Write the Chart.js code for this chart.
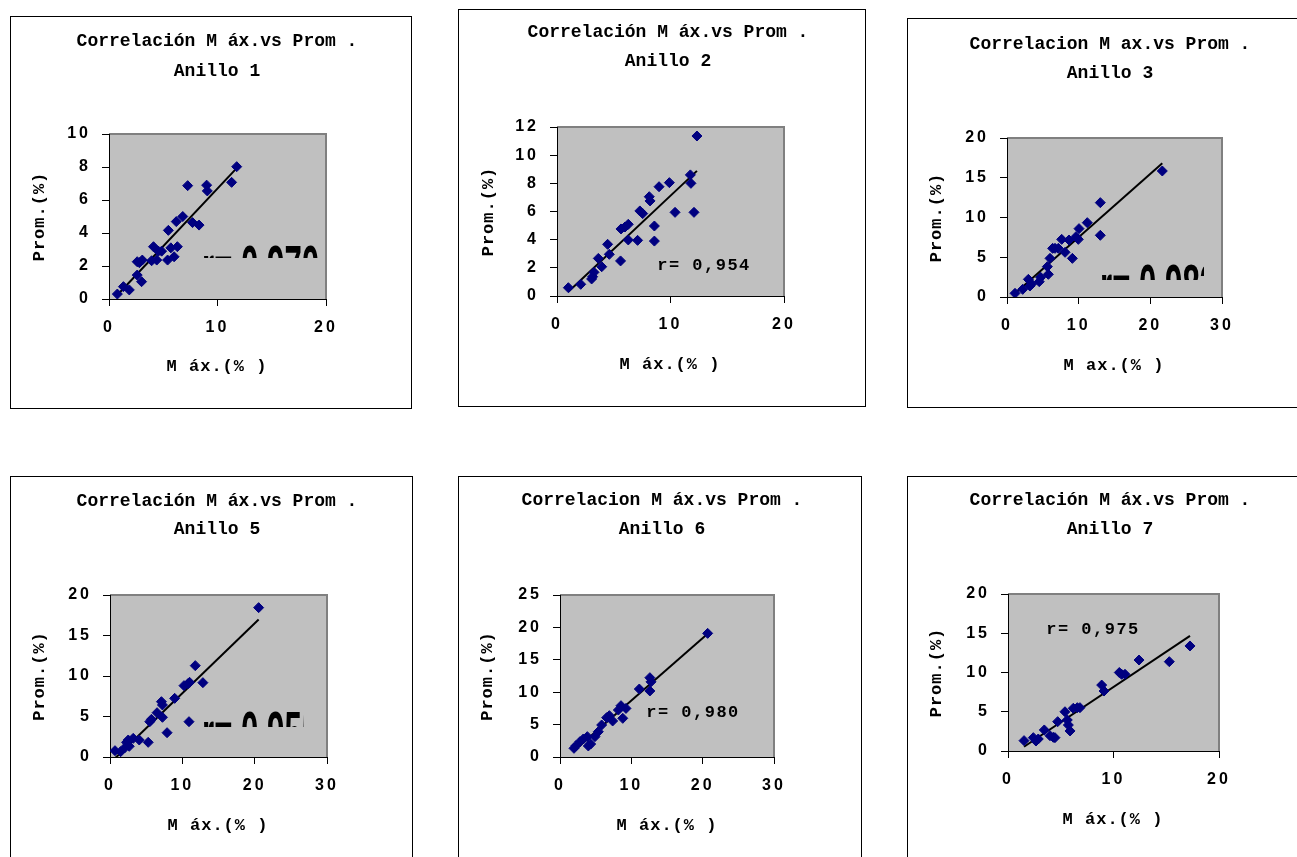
<!DOCTYPE html>
<html>
<head>
<meta charset="utf-8">
<script src="https://cdn.jsdelivr.net/npm/chart.js@4.4.1/dist/chart.umd.min.js"></script>
<style>
  body { margin: 0; background: #fff; width: 1297px; height: 857px; overflow: hidden; position: relative; }
  canvas { position: absolute; }
</style>
</head>
<body>
<script>
// Máx. (%) vs Prom. (%) per ring
const max1 = [0.77, 1.33, 1.87, 2.6, 2.6, 3.0, 3.07, 2.8, 3.93, 4.1, 4.4, 4.55, 4.85, 5.4, 5.47, 5.7, 6.0, 6.2, 6.3, 6.8, 7.25, 7.7, 8.3, 9.0, 9.06, 11.3, 11.77];
const prom1 = [0.30, 0.75, 0.55, 1.45, 2.26, 1.05, 2.36, 2.2, 2.32, 3.17, 2.36, 2.9, 2.9, 2.36, 4.16, 3.1, 2.56, 4.69, 3.17, 5.0, 6.87, 4.63, 4.48, 6.9, 6.55, 7.07, 8.02];

const max2 = [1.0, 2.09, 3.05, 3.14, 3.26, 3.64, 3.94, 4.46, 4.61, 5.6, 5.64, 5.99, 6.28, 6.28, 7.1, 7.3, 7.55, 8.13, 8.2, 8.58, 8.58, 8.99, 9.9, 10.4, 11.75, 11.8, 12.07, 12.33];
const prom2 = [0.59, 0.83, 1.21, 1.37, 1.68, 2.67, 2.08, 3.67, 2.96, 2.49, 4.76, 4.9, 5.09, 3.98, 3.95, 6.04, 5.85, 7.05, 6.75, 4.97, 3.9, 7.76, 8.05, 5.94, 8.6, 8.0, 5.94, 11.36];

const max3 = [1.12, 2.19, 2.98, 3.2, 3.44, 4.5, 4.7, 5.63, 5.77, 6.0, 6.37, 6.7, 7.16, 7.63, 8.1, 8.65, 9.12, 9.63, 9.95, 10.05, 11.2, 13.02, 13.02, 21.67];
const prom3 = [0.46, 0.96, 2.22, 1.38, 1.64, 1.93, 2.47, 3.82, 2.85, 4.86, 6.12, 6.12, 6.12, 7.25, 5.62, 7.17, 4.86, 7.59, 7.25, 8.6, 9.35, 11.87, 7.76, 15.85];

const max5 = [0.69, 1.47, 2.06, 2.29, 2.52, 2.66, 3.21, 4.04, 5.28, 5.5, 5.73, 6.51, 7.11, 7.25, 7.25, 7.89, 8.94, 10.23, 10.78, 10.92, 11.0, 11.79, 12.84, 20.55];
const prom5 = [0.78, 0.66, 1.15, 1.81, 2.1, 1.32, 2.3, 2.1, 1.81, 4.36, 4.65, 5.47, 6.83, 6.42, 4.9, 3.0, 7.24, 8.81, 9.05, 4.36, 9.22, 11.28, 9.18, 18.44];

const max6 = [1.96, 2.24, 2.8, 3.27, 3.83, 3.97, 4.3, 4.9, 5.37, 5.84, 6.54, 6.92, 7.38, 8.18, 8.55, 8.8, 9.25, 11.12, 12.6, 12.6, 12.76, 20.7];
const prom6 = [1.34, 1.75, 2.37, 2.78, 3.14, 1.7, 2.0, 3.14, 3.9, 4.94, 6.07, 6.38, 5.56, 7.25, 7.92, 5.97, 7.5, 10.49, 12.24, 10.19, 11.6, 19.08];

const max7 = [1.52, 2.4, 2.65, 2.87, 3.44, 3.98, 4.3, 4.45, 4.71, 5.4, 5.62, 5.72, 5.88, 6.19, 6.57, 6.82, 8.88, 9.1, 10.55, 10.77, 11.09, 12.42, 15.29, 17.25];
const prom7 = [1.32, 1.7, 1.27, 1.53, 2.68, 1.95, 1.74, 1.7, 3.74, 5.0, 3.95, 3.31, 2.55, 5.44, 5.52, 5.52, 8.4, 7.64, 10.0, 9.77, 9.77, 11.59, 11.38, 13.38];

const rings = ['Anillo 1', 'Anillo 2', 'Anillo 3', 'Anillo 5', 'Anillo 6', 'Anillo 7'];
const titles = ['Correlación M áx.vs Prom .', 'Correlación M áx.vs Prom .', 'Correlacion M ax.vs Prom .',
                'Correlación M áx.vs Prom .', 'Correlacion M áx.vs Prom .', 'Correlación M áx.vs Prom .'];
const xTitles = ['M áx.(% )', 'M áx.(% )', 'M ax.(% )', 'M áx.(% )', 'M áx.(% )', 'M áx.(% )'];
const yTitle = 'Prom.(%)';
const rValues = [0.970, 0.954, 0.983, 0.955, 0.980, 0.975];

const xTicks = [[0, 10, 20], [0, 10, 20], [0, 10, 20, 30], [0, 10, 20, 30], [0, 10, 20, 30], [0, 10, 20]];
const yTicks = [[0, 2, 4, 6, 8, 10], [0, 2, 4, 6, 8, 10, 12], [0, 5, 10, 15, 20], [0, 5, 10, 15, 20],
                [0, 5, 10, 15, 20, 25], [0, 5, 10, 15, 20]];

const maxSets = [max1, max2, max3, max5, max6, max7];
const promSets = [prom1, prom2, prom3, prom5, prom6, prom7];

// page layout: frame box, plot box, text anchors (page px)
const panels = [
  { box: [10, 16, 412, 409],   plot: [109, 134, 326, 299],  t1: [217, 41],   t2: 71,  yt: 40,  xt: [217, 367],
    r: { big: true, x: 202, base: 287, clipB: 258, clipR: 330 } },
  { box: [458, 9, 866, 407],   plot: [557, 127, 784, 296],  t1: [668, 32],   t2: 61,  yt: 489, xt: [670, 365],
    r: { x: 704, y: 266 } },
  { box: [907, 18, 1300, 408], plot: [1007, 138, 1222, 297], t1: [1110, 44], t2: 73,  yt: 937, xt: [1114, 366],
    r: { big: true, x: 1100, base: 306, clipB: 280, clipR: 1204 } },
  { box: [10, 476, 413, 870],  plot: [110, 595, 327, 757],  t1: [217, 501],  t2: 529, yt: 40,  xt: [218, 826],
    r: { big: true, x: 202, base: 753, clipB: 727, clipR: 304 } },
  { box: [458, 476, 862, 870], plot: [560, 595, 774, 757],  t1: [662, 500],  t2: 529, yt: 488, xt: [667, 826],
    r: { x: 693, y: 713 } },
  { box: [907, 476, 1300, 870], plot: [1008, 594, 1219, 751], t1: [1110, 500], t2: 529, yt: 937, xt: [1113, 820],
    r: { x: 1093, y: 630 } }
];

function fit(xs, ys) {
  const n = xs.length;
  const mx = xs.reduce((a, b) => a + b, 0) / n;
  const my = ys.reduce((a, b) => a + b, 0) / n;
  let sxy = 0, sxx = 0;
  for (let i = 0; i < n; i++) {
    sxy += (xs[i] - mx) * (ys[i] - my);
    sxx += (xs[i] - mx) * (xs[i] - mx);
  }
  const b = sxy / sxx;
  return { a: my - b * mx, b: b };
}

const panelPlugin = {
  id: 'panel',
  beforeDraw(chart, args, opts) {
    const ctx = chart.ctx;
    const a = chart.chartArea;
    ctx.save();
    ctx.fillStyle = '#fff';
    ctx.fillRect(0, 0, chart.width, chart.height);
    ctx.fillStyle = '#c0c0c0';
    ctx.fillRect(a.left, a.top, a.right - a.left, a.bottom - a.top);
    ctx.strokeStyle = '#808080';
    ctx.lineWidth = 2;
    ctx.beginPath();
    ctx.moveTo(a.left, a.top);
    ctx.lineTo(a.right, a.top);
    ctx.lineTo(a.right, a.bottom);
    ctx.stroke();
    ctx.strokeStyle = '#000';
    ctx.lineWidth = 1;
    ctx.strokeRect(0.5, 0.5, chart.width - 1, chart.height - 1);
    ctx.restore();
    ctx.letterSpacing = '3px';
  },
  afterDraw(chart, args, opts) {
    const ctx = chart.ctx;
    const p = opts.p, ox = p.box[0], oy = p.box[1];
    const a = chart.chartArea;
    ctx.save();
    ctx.fillStyle = '#000';
    ctx.textAlign = 'center';
    ctx.textBaseline = 'middle';
    ctx.letterSpacing = '0px';
    ctx.font = 'bold 18px "Liberation Mono", monospace';
    ctx.fillText(opts.title, p.t1[0] - ox, p.t1[1] - oy);
    ctx.fillText(opts.ring, p.t1[0] - ox, p.t2 - oy);

    ctx.letterSpacing = '1px';
    ctx.font = 'bold 17px "Liberation Mono", monospace';
    ctx.fillText(opts.xTitle, p.xt[0] - ox, p.xt[1] - oy);
    ctx.save();
    ctx.translate(p.yt - ox, (a.top + a.bottom) / 2);
    ctx.rotate(-Math.PI / 2);
    ctx.fillText(yTitle, 0, 0);
    ctx.restore();

    const label = 'r= ' + opts.r.toFixed(3).replace('.', ',');
    if (p.r.big) {
      // oversized label, cut off by its box
      ctx.save();
      ctx.beginPath();
      ctx.rect(a.left, a.top, p.r.clipR - ox - a.left, p.r.clipB - oy - a.top);
      ctx.clip();
      ctx.translate(p.r.x - ox, p.r.base - oy);
      ctx.scale(0.52, 1);
      ctx.letterSpacing = '0px';
      ctx.textAlign = 'left';
      ctx.textBaseline = 'alphabetic';
      ctx.font = 'bold 60px "Liberation Sans", Arial, sans-serif';
      ctx.fillText(label, 0, 0);
      ctx.restore();
    } else {
      ctx.letterSpacing = '1.5px';
      ctx.font = 'bold 17px "Liberation Mono", monospace';
      ctx.fillText(label, p.r.x - ox, p.r.y - oy);
    }
    ctx.restore();
  }
};

panels.forEach((p, i) => {
  const w = p.box[2] - p.box[0];
  const h = p.box[3] - p.box[1];
  const canvas = document.createElement('canvas');
  canvas.width = w;
  canvas.height = h;
  canvas.style.left = p.box[0] + 'px';
  canvas.style.top = p.box[1] + 'px';
  document.body.appendChild(canvas);

  const xs = maxSets[i], ys = promSets[i];
  const pts = xs.map((x, k) => ({ x: x, y: ys[k] }));
  const lr = fit(xs, ys);
  const x0 = Math.min(...xs), x1 = Math.max(...xs);
  const trend = [{ x: x0, y: lr.a + lr.b * x0 }, { x: x1, y: lr.a + lr.b * x1 }];

  const left = p.plot[0] - p.box[0];
  const top = p.plot[1] - p.box[1];
  const right = p.box[2] - p.plot[2];
  const bottom = p.box[3] - p.plot[3];
  const xt = xTicks[i], yt = yTicks[i];

  new Chart(canvas, {
    type: 'scatter',
    data: {
      datasets: [{
        data: pts,
        pointStyle: 'rectRot',
        pointRadius: 5,
        pointBorderWidth: 1,
        backgroundColor: '#000080',
        borderColor: '#000080'
      }, {
        type: 'line',
        data: trend,
        borderColor: '#000',
        borderWidth: 2,
        pointRadius: 0,
        fill: false
      }]
    },
    options: {
      responsive: false,
      animation: false,
      layout: { padding: { left: 0, top: top, right: right, bottom: 0 } },
      plugins: {
        legend: { display: false },
        tooltip: { enabled: false },
        panel: { p: p, title: titles[i], ring: rings[i], xTitle: xTitles[i], r: rValues[i] }
      },
      scales: {
        x: {
          type: 'linear',
          min: xt[0],
          max: xt[xt.length - 1],
          afterBuildTicks: (s) => { s.ticks = xt.map(v => ({ value: v })); },
          afterFit: (s) => { s.height = bottom; },
          grid: { drawOnChartArea: false, drawTicks: true, tickLength: 7, color: '#000' },
          border: { color: '#000', width: 1 },
          ticks: { color: '#000', padding: 12, maxRotation: 0, font: { family: 'Liberation Sans', size: 16, weight: 'bold' } }
        },
        y: {
          type: 'linear',
          min: yt[0],
          max: yt[yt.length - 1],
          afterBuildTicks: (s) => { s.ticks = yt.map(v => ({ value: v })); },
          afterFit: (s) => { s.width = left; },
          grid: { drawOnChartArea: false, drawTicks: true, tickLength: 7, color: '#000' },
          border: { color: '#000', width: 1 },
          ticks: { color: '#000', padding: 11, font: { family: 'Liberation Sans', size: 16, weight: 'bold' } }
        }
      }
    },
    plugins: [panelPlugin]
  });
});
</script>
</body>
</html>
